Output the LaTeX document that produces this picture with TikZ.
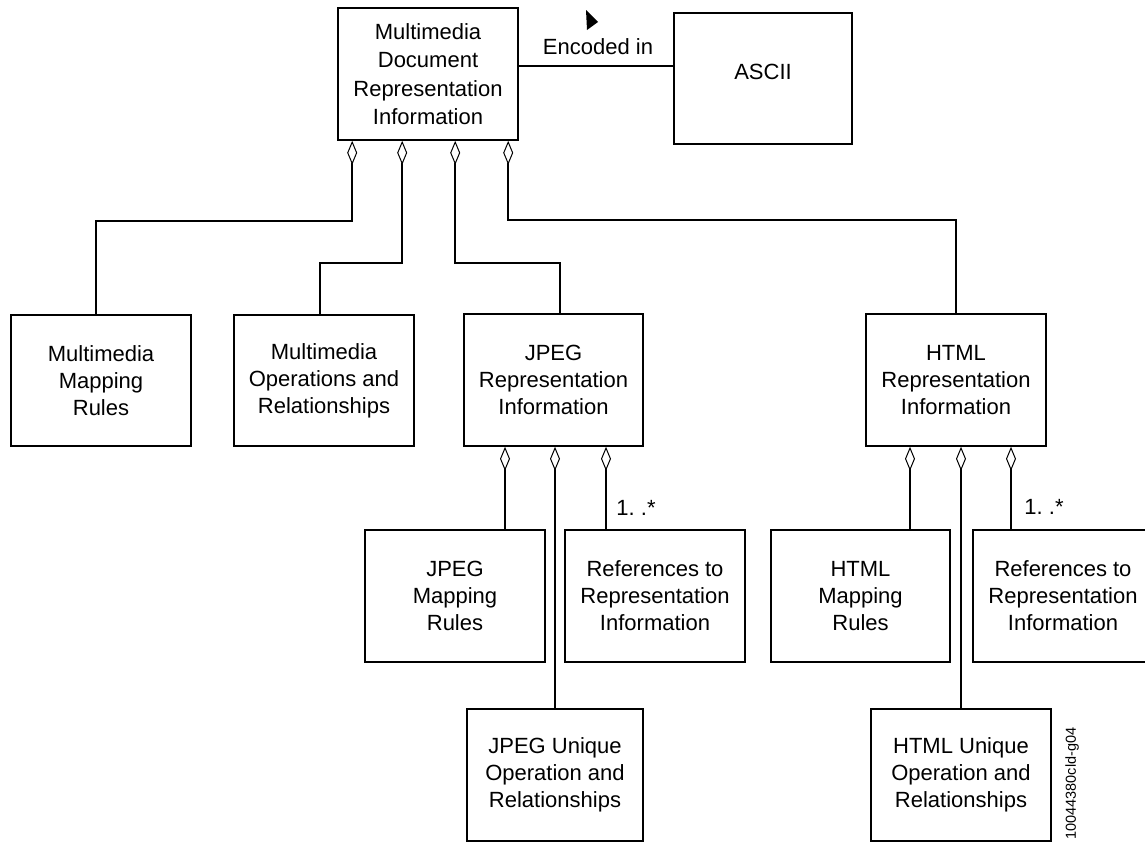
\documentclass[tikz,border=0pt]{standalone}
\usepackage{fontspec}
\setmainfont{Liberation Sans}
\usetikzlibrary{arrows.meta,calc}
\begin{document}
\begin{tikzpicture}[x=1pt,y=-1pt,
  box/.style={draw, line width=1.6pt, minimum width=180pt, minimum height=132pt,
    align=center, inner sep=0pt, font=\fontsize{22}{27}\selectfont},
  agg/.style={line width=1.6pt, -{Diamond[length=24pt,width=10pt,line width=1pt,fill=white]}},
  conn/.style={line width=1.6pt},
  lbl/.style={font=\fontsize{22}{27}\selectfont, inner sep=0pt}]
\useasboundingbox (0,0) rectangle (1145,841);
% nodes
\node[box, font=\fontsize{22}{28.5}\selectfont] (top) at (428,74) {Multimedia\\Document\\Representation\\Information};
\node[box, minimum width=178pt, minimum height=131pt] (ascii) at (763,78.5) {\raisebox{6.5pt}[\height][\depth]{ASCII}};
\node[box, minimum height=131pt] (mmr) at (101,380.5) {Multimedia\\Mapping\\Rules};
\node[box, minimum height=131pt] (mor) at (324,380.5) {Multimedia\\Operations and\\Relationships};
\node[box, minimum width=179pt] (jri) at (553.5,380) {JPEG\\Representation\\Information};
\node[box] (hri) at (956,380) {HTML\\Representation\\Information};
\node[box] (jmr) at (455,596) {JPEG\\Mapping\\Rules};
\node[box] (jref) at (655,596) {References to\\Representation\\Information};
\node[box, minimum width=176pt] (juo) at (555,775) {JPEG Unique\\Operation and\\Relationships};
\node[box, minimum width=179pt] (hmr) at (860.5,596) {HTML\\Mapping\\Rules};
\node[box] (href) at (1063,596) {References to\\Representation\\Information};
\node[box] (huo) at (961,775) {HTML Unique\\Operation and\\Relationships};
% labels
\node[lbl] (enc) at (598,47) {Encoded in};
\node[lbl] (m1) at (636,508) {1.\ .*};
\node[lbl] (m2) at (1044,507) {1.\ .*};
\node[font=\fontsize{14.5}{16}\selectfont, rotate=90, inner sep=0pt] (code) at (1072,783.5) {10044380cld-g04};
% encoded-in association
\draw[conn] ([yshift=8pt]top.east) -- ([yshift=8pt]top.east -| ascii.west);
\fill (586,10) -- (598,22) -- (587,30) -- cycle;
% aggregation from top
\draw[agg] ([xshift=-5pt]mmr.north) -- ++(0,-93) -| ([xshift=15pt]top.south west);
\draw[agg] ([xshift=-4pt]mor.north) -- ++(0,-51) -| ([xshift=65pt]top.south west);
\draw[agg] ([xshift=6.5pt]jri.north) -- ++(0,-50) -| ([xshift=118pt]top.south west);
\draw[agg] (hri.north) -- ++(0,-93) -| ([xshift=171pt]top.south west);
% JPEG parts
\draw[agg] ([xshift=50pt]jmr.north) -- ([xshift=50pt]jmr.north |- jri.south);
\draw[agg] (juo.north) -- (juo.north |- jri.south);
\draw[agg] ([xshift=-49pt]jref.north) -- ([xshift=-49pt]jref.north |- jri.south);
% HTML parts
\draw[agg] ([xshift=49.5pt]hmr.north) -- ([xshift=49.5pt]hmr.north |- hri.south);
\draw[agg] (huo.north) -- (huo.north |- hri.south);
\draw[agg] ([xshift=-52pt]href.north) -- ([xshift=-52pt]href.north |- hri.south);
\end{tikzpicture}
\end{document}
